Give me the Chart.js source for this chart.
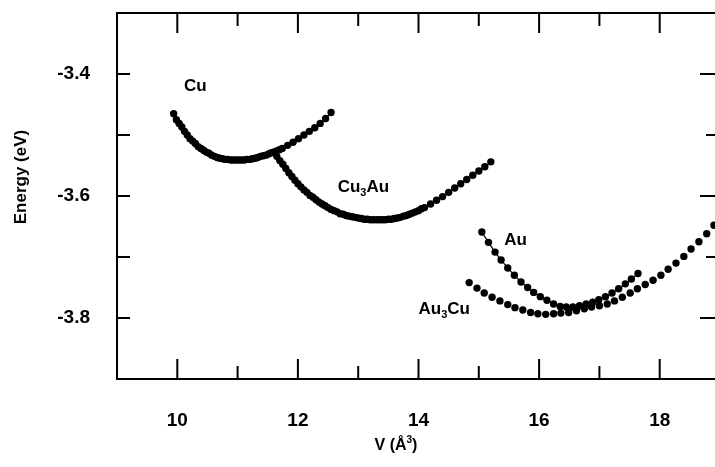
<!DOCTYPE html>
<html lang="en">
<head>
<meta charset="utf-8" />
<script src="https://cdn.jsdelivr.net/npm/chart.js@4.4.1/dist/chart.umd.min.js"></script>
<title>Energy vs volume</title>
<style>
    body { margin: 0; overflow: hidden; background: #fff; }
    #caja { width: 724px; height: 467px; }
</style>
</head>
<body>
<div id="caja"><canvas id="curvas"></canvas></div>
<script>
// volumes (A^3) and energies (eV) per phase, denser sampling near each minimum
const volCu = [9.94, 9.985, 10.03, 10.075, 10.12, 10.165, 10.21, 10.255, 10.30, 10.345, 10.39, 10.435, 10.48, 10.525, 10.57,
    10.615, 10.66, 10.705, 10.75, 10.795, 10.84, 10.885, 10.93, 10.975, 11.02, 11.065, 11.11, 11.155, 11.20, 11.245, 11.29,
    11.335, 11.38, 11.425, 11.47, 11.515, 11.56, 11.605, 11.65, 11.695, 11.74, 11.83, 11.92, 12.01,
    12.10, 12.19, 12.28, 12.37, 12.46, 12.55];
const eCu = [-3.465, -3.475, -3.481, -3.487, -3.494, -3.500, -3.506, -3.510, -3.514, -3.519, -3.522, -3.525, -3.528, -3.530,
    -3.533, -3.535, -3.537, -3.538, -3.539, -3.540, -3.540, -3.541, -3.541, -3.541, -3.541, -3.541, -3.541, -3.540, -3.540,
    -3.539, -3.538, -3.537, -3.535, -3.534, -3.533, -3.531, -3.529, -3.528, -3.526, -3.524, -3.522, -3.517,
    -3.512, -3.506, -3.500, -3.494, -3.488, -3.481, -3.473, -3.463];

const volCu3Au = [11.6, 11.65, 11.7, 11.75, 11.8, 11.85, 11.9, 11.95, 12.0, 12.05, 12.1, 12.15, 12.2, 12.25, 12.3, 12.35,
    12.4, 12.45, 12.5, 12.55, 12.6, 12.65, 12.7, 12.75, 12.8, 12.85, 12.9, 12.95, 13.0, 13.05, 13.1, 13.15, 13.2, 13.25,
    13.3, 13.35, 13.4, 13.45, 13.5, 13.55, 13.6, 13.65, 13.7, 13.75, 13.8, 13.85, 13.9, 13.95, 14.0, 14.05,
    14.1, 14.2, 14.3, 14.4, 14.5, 14.6, 14.7, 14.8, 14.9, 15.0, 15.1, 15.2];
const eCu3Au = [-3.528, -3.535, -3.542, -3.548, -3.555, -3.562, -3.568, -3.574, -3.580, -3.585, -3.590, -3.594, -3.599, -3.602,
    -3.606, -3.610, -3.613, -3.616, -3.619, -3.622, -3.624, -3.626, -3.629, -3.630, -3.632, -3.633, -3.634, -3.635, -3.636,
    -3.637, -3.638, -3.638, -3.639, -3.639, -3.639, -3.639, -3.639, -3.639, -3.638, -3.638, -3.637, -3.636, -3.635, -3.633,
    -3.632, -3.630, -3.628, -3.626, -3.624, -3.621,
    -3.619, -3.613, -3.607, -3.601, -3.594, -3.587, -3.580, -3.573, -3.566, -3.559, -3.552, -3.544];

const volAu = [15.05, 15.16, 15.27, 15.37, 15.48, 15.59, 15.70, 15.81, 15.91, 16.02, 16.13, 16.24, 16.35, 16.45, 16.56,
    16.67, 16.78, 16.89, 16.99, 17.10, 17.21, 17.32, 17.43, 17.53, 17.64];
const eAu = [-3.659, -3.676, -3.692, -3.705, -3.718, -3.730, -3.741, -3.750, -3.758, -3.765, -3.771, -3.777, -3.781, -3.782,
    -3.782, -3.780, -3.777, -3.774, -3.770, -3.765, -3.759, -3.752, -3.744, -3.736, -3.727];

const volAu3Cu = [14.84, 14.97, 15.09, 15.22, 15.35, 15.48, 15.60, 15.73, 15.86, 15.98, 16.11, 16.24, 16.36, 16.49, 16.62,
    16.75, 16.87, 17.00, 17.13, 17.25, 17.38, 17.51, 17.63, 17.76, 17.89, 18.02, 18.14, 18.27, 18.40, 18.52, 18.65, 18.78, 18.90];
const eAu3Cu = [-3.742, -3.751, -3.759, -3.766, -3.772, -3.778, -3.783, -3.787, -3.791, -3.793, -3.794, -3.793, -3.792, -3.791,
    -3.788, -3.785, -3.782, -3.780, -3.777, -3.772, -3.766, -3.759, -3.752, -3.745, -3.738, -3.730, -3.720, -3.710, -3.699,
    -3.687, -3.675, -3.662, -3.648];

// ticks
const xMayor = [10, 12, 14, 16, 18];
const xMenor = [11, 13, 15, 17];
const yMayor = [-3.4, -3.6, -3.8];
const yMenor = [-3.5, -3.7];

// curve names, [text, subscript?] pieces, anchored in data units
const nombres = [
    { partes: [["Cu", 0]], x: 10.11, y: -3.420 },
    { partes: [["Cu", 0], ["3", 1], ["Au", 0]], x: 12.66, y: -3.585 },
    { partes: [["Au", 0]], x: 15.42, y: -3.672 },
    { partes: [["Au", 0], ["3", 1], ["Cu", 0]], x: 14.0, y: -3.785 }
];

const fuente = '"Liberation Sans", Arial, sans-serif';

function pares(vs, es) {
    return vs.map((v, i) => ({ x: v, y: es[i] }));
}

function serie(vs, es, linea) {
    return {
        data: pares(vs, es),
        showLine: linea,
        borderColor: "#000",
        borderWidth: 1.2,
        backgroundColor: "#000",
        pointRadius: 3.7,
        pointBorderWidth: 0,
        pointBackgroundColor: "#000"
    };
}

// box, inward ticks, axis titles and curve names
const marco = {
    id: "marco",
    afterDatasetsDraw(chart) {
        const { ctx, chartArea: a, scales: { x, y } } = chart;
        ctx.save();
        ctx.strokeStyle = "#000";
        ctx.lineWidth = 2;
        ctx.strokeRect(a.left, a.top, a.right - a.left, a.bottom - a.top);
        ctx.beginPath();
        xMayor.concat(xMenor).forEach(v => {
            const px = x.getPixelForValue(v);
            const l = xMayor.includes(v) ? 20 : 13;
            ctx.moveTo(px, a.bottom); ctx.lineTo(px, a.bottom - l);
            ctx.moveTo(px, a.top); ctx.lineTo(px, a.top + l);
        });
        yMayor.concat(yMenor).forEach(v => {
            const py = y.getPixelForValue(v);
            ctx.moveTo(a.left, py); ctx.lineTo(a.left + 13, py);
            ctx.moveTo(a.right, py); ctx.lineTo(a.right - (yMayor.includes(v) ? 20 : 14), py);
        });
        ctx.stroke();

        ctx.fillStyle = "#000";
        ctx.textBaseline = "middle";
        ctx.textAlign = "left";
        nombres.forEach(n => {
            let px = x.getPixelForValue(n.x);
            const py = y.getPixelForValue(n.y);
            n.partes.forEach(([t, sub]) => {
                ctx.font = sub ? "bold 11px " + fuente : "bold 17px " + fuente;
                ctx.fillText(t, px, sub ? py + 6 : py);
                px += ctx.measureText(t).width;
            });
        });

        // y title
        ctx.save();
        ctx.translate(a.left - 96, a.top + 164);
        ctx.rotate(-Math.PI / 2);
        ctx.textAlign = "center";
        ctx.font = "bold 17px " + fuente;
        ctx.fillText("Energy (eV)", 0, 0);
        ctx.restore();

        // x title: V (Å³)
        ctx.font = "bold 16px " + fuente;
        const t1 = "V (Å", t2 = "3", t3 = ")";
        const w1 = ctx.measureText(t1).width, w3 = ctx.measureText(t3).width;
        ctx.font = "bold 10px " + fuente;
        const w2 = ctx.measureText(t2).width;
        let cx = 396 - (w1 + w2 + w3) / 2;
        const cy = a.bottom + 67;
        ctx.font = "bold 16px " + fuente;
        ctx.fillText(t1, cx, cy);
        ctx.font = "bold 10px " + fuente;
        ctx.fillText(t2, cx + w1, cy - 6);
        ctx.font = "bold 16px " + fuente;
        ctx.fillText(t3, cx + w1 + w2, cy);
        ctx.restore();
    }
};

new Chart(document.getElementById("curvas").getContext("2d"), {
    type: "scatter",
    data: {
        datasets: [
            serie(volCu, eCu, true),
            serie(volCu3Au, eCu3Au, true),
            serie(volAu, eAu, true),
            serie(volAu3Cu, eAu3Cu, false)
        ]
    },
    options: {
        responsive: true,
        maintainAspectRatio: false,
        animation: false,
        devicePixelRatio: 1,
        layout: { autoPadding: false, padding: { top: 13, right: 4, left: 0, bottom: 0 } },
        plugins: { legend: { display: false }, tooltip: { enabled: false } },
        scales: {
            x: {
                type: "linear",
                min: 9,
                max: 19,
                afterBuildTicks: s => { s.ticks = xMayor.map(v => ({ value: v })); },
                afterFit: s => { s.height = 88; },
                // tick marks are drawn by the plugin, tickLength only spaces the labels
                grid: { display: false, drawTicks: true, tickLength: 30 },
                border: { display: false },
                ticks: {
                    padding: 0,
                    color: "#000",
                    font: { family: fuente, size: 19, weight: "bold" },
                    callback: v => v
                }
            },
            y: {
                min: -3.9,
                max: -3.3,
                afterBuildTicks: s => { s.ticks = yMayor.map(v => ({ value: v })); },
                afterFit: s => { s.width = 117; },
                grid: { display: false, drawTicks: true, tickLength: 27 },
                border: { display: false },
                ticks: {
                    padding: 0,
                    color: "#000",
                    font: { family: fuente, size: 19, weight: "bold" },
                    callback: v => v.toFixed(1)
                }
            }
        }
    },
    plugins: [marco]
});
</script>
</body>
</html>
